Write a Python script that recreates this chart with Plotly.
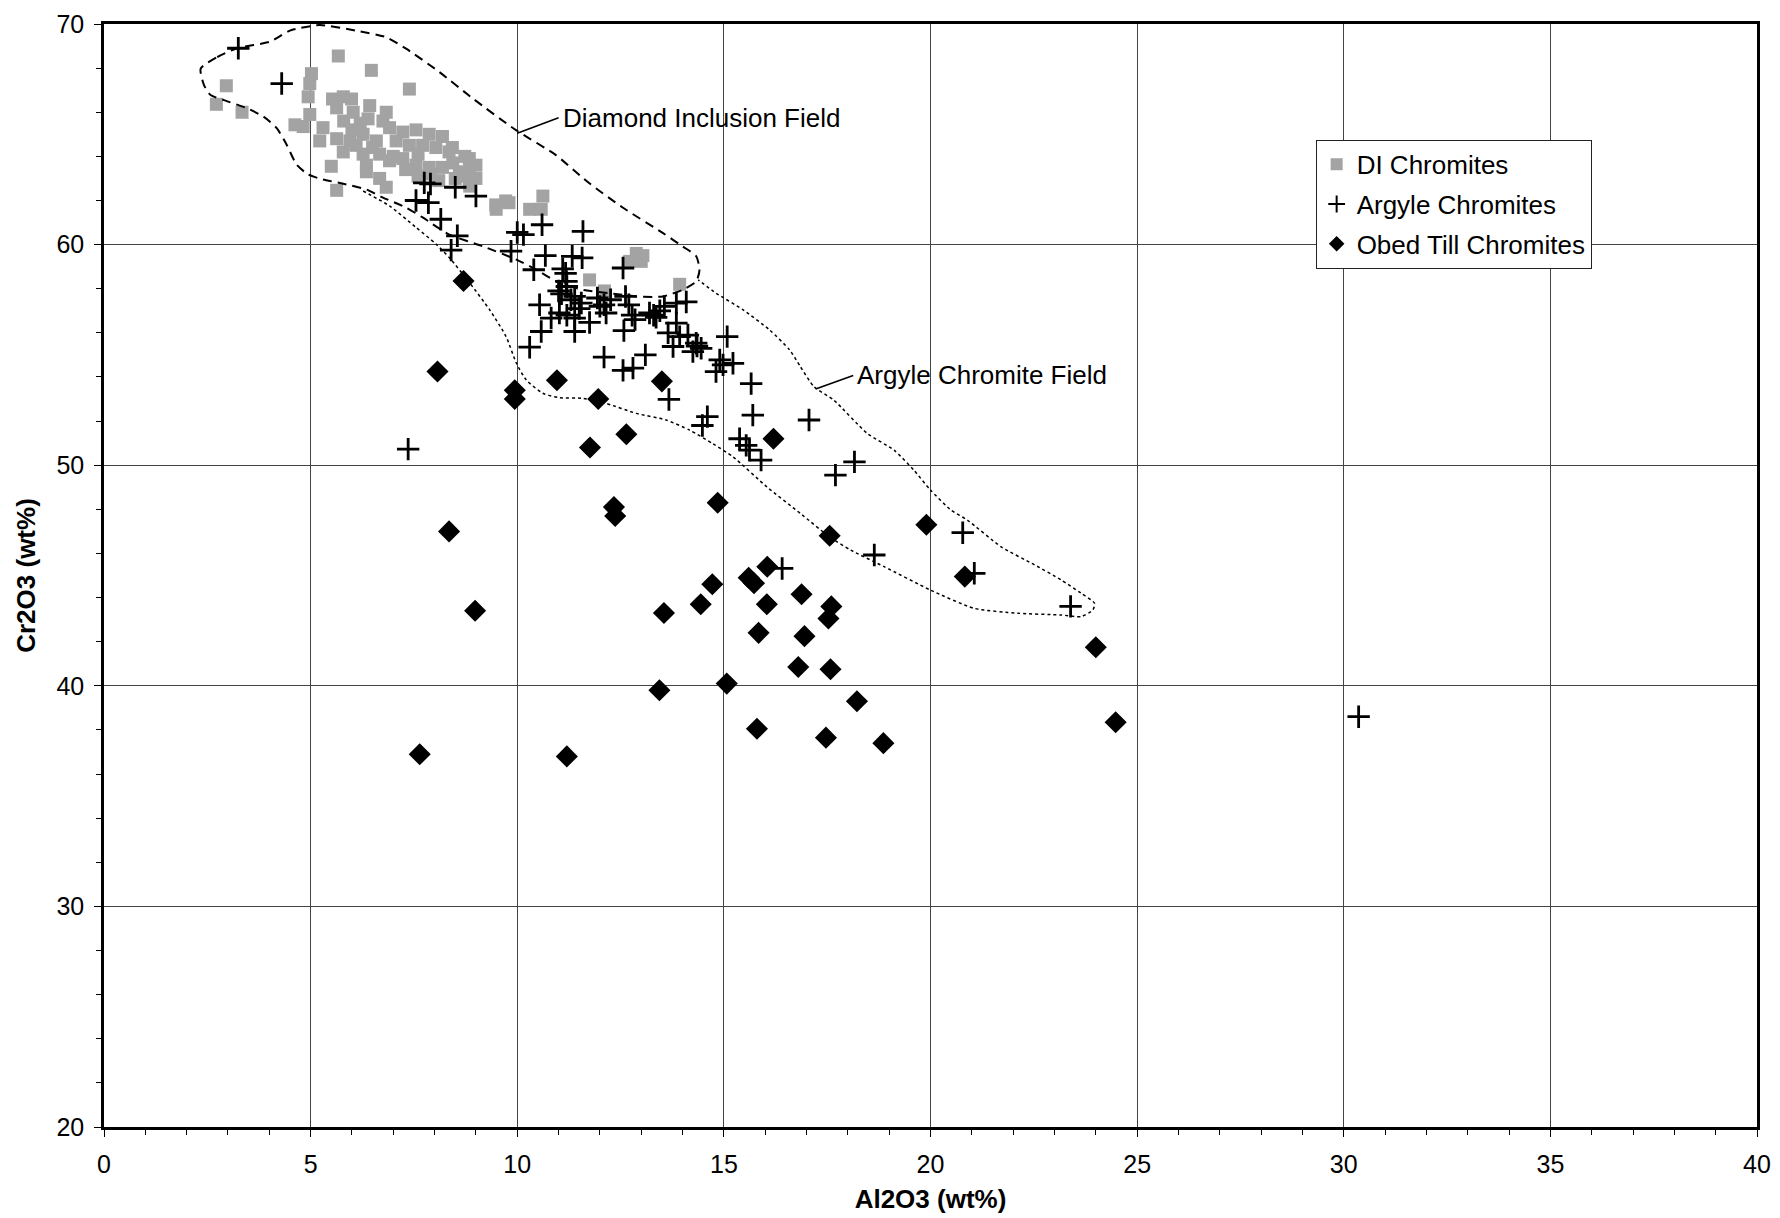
import plotly.graph_objects as go

# ---- DI chromites (Al2O3, Cr2O3 wt%) ----
di_x = [2.96, 2.72, 3.34, 5.67, 6.47, 7.39, 5.02, 4.98, 4.94, 4.82, 4.62, 4.98, 5.53, 5.79, 5.99,
        5.63, 6.03, 6.43, 6.83, 6.39, 6.75, 6.91, 7.23, 7.55, 7.87, 8.19, 5.30, 5.22, 5.63, 5.95,
        6.27, 6.59, 7.07, 7.39, 7.71, 8.03, 8.35, 8.43, 5.79, 6.27, 6.67, 6.91, 7.23, 7.55, 7.87,
        8.19, 8.60, 8.84, 8.80, 8.84, 5.50, 6.35, 6.35, 6.67, 6.83, 5.63, 8.73, 8.85, 8.85, 8.44,
        9.49, 9.80, 10.30, 10.58, 10.62, 12.88, 13.04, 12.72, 13.00, 11.75, 12.11, 13.93, 7.90, 8.10,
        7.60, 7.30, 6.50, 6.10, 6.00, 5.80, 6.20, 7.00, 7.60, 8.50, 9.00, 9.00, 9.48, 9.72]
di_y = [67.20, 66.36, 66.00, 68.55, 67.90, 67.05, 67.75, 67.30, 66.70, 65.35, 65.43, 65.90, 66.60, 66.70, 66.60,
        66.20, 66.00, 66.30, 66.00, 65.70, 65.60, 65.30, 65.10, 65.20, 65.00, 64.90, 65.30, 64.70, 64.80, 64.70,
        65.00, 64.70, 64.70, 64.50, 64.50, 64.40, 64.20, 64.40, 64.20, 64.10, 64.10, 63.80, 63.90, 63.60, 63.50,
        63.50, 63.30, 63.90, 63.10, 62.80, 63.55, 63.60, 63.30, 63.00, 62.60, 62.46, 64.00, 63.40, 62.65, 63.70,
        61.60, 61.90, 61.60, 61.60, 62.20, 59.60, 59.50, 59.24, 59.24, 58.40, 57.90, 58.20, 63.20, 62.90,
        63.10, 63.40, 64.40, 64.50, 65.20, 65.60, 65.50, 64.00, 64.10, 63.00, 63.00, 63.60, 61.80, 61.98]

# ---- Argyle chromites ----
arg_x = [3.25, 4.30, 7.75, 7.90, 8.50, 9.00, 7.55, 7.85, 8.15, 8.55, 8.40, 10.00, 10.15, 9.85, 10.60,
         10.68, 11.59, 11.33, 11.57, 12.56, 10.40, 11.17, 11.19, 11.07, 11.39, 11.55, 10.54, 11.02, 10.82,
         11.39, 11.75, 11.39, 10.58, 10.30, 11.94, 12.10, 12.26, 12.62, 12.70, 12.78, 12.58, 13.20, 13.36,
         13.56, 13.85, 14.09, 13.65, 13.85, 13.93, 13.77, 14.13, 14.33, 14.25, 15.08, 14.90, 14.98, 15.22,
         14.81, 12.10, 12.56, 12.80, 13.10, 15.66, 13.67, 14.60, 14.48, 15.70, 17.06, 15.38, 15.54, 15.62,
         15.90, 18.16, 17.70, 7.36, 20.78, 18.64, 16.41, 21.06, 23.39, 30.36, 11.10, 11.20, 11.00, 11.30,
         11.50, 11.20, 12.00, 12.15, 13.30, 13.45, 12.85, 14.35, 14.45]
arg_y = [68.90, 67.30, 62.80, 62.75, 62.60, 62.20, 62.00, 61.90, 61.15, 60.40, 59.75, 60.55, 60.45, 59.70, 60.90,
         59.50, 60.60, 59.47, 59.40, 58.94, 58.86, 58.70, 58.33, 57.77, 57.65, 57.35, 57.27, 56.90, 56.67,
         56.67, 56.47, 56.06, 56.06, 55.35, 57.58, 57.27, 57.50, 57.65, 57.27, 56.80, 56.10, 56.90, 56.70,
         57.20, 57.35, 57.40, 56.00, 56.44, 55.83, 55.38, 55.90, 55.53, 55.15, 55.83, 54.77, 54.55, 54.62,
         54.24, 54.90, 54.30, 54.40, 55.00, 53.70, 52.98, 52.20, 51.80, 52.27, 52.05, 51.20, 50.90, 50.68,
         50.23, 50.15, 49.55, 50.73, 46.94, 45.93, 45.32, 45.10, 43.60, 38.60, 58.90, 58.10, 57.90, 57.50,
         57.10, 56.80, 57.20, 56.90, 56.80, 57.00, 56.60, 55.40, 55.30]

# ---- Obed till chromites ----
obed_x = [8.70, 8.07, 9.94, 9.94, 10.96, 11.96, 11.76, 12.64, 13.50, 16.20, 8.35, 8.98, 12.34, 12.37,
          14.85, 7.64, 11.20, 13.55, 13.44, 14.44, 14.72, 15.07, 15.60, 15.73, 16.05, 16.04, 15.84, 15.80,
          16.80, 16.88, 16.95, 17.60, 17.53, 17.56, 17.58, 17.47, 18.22, 18.86, 19.90, 20.83, 24.00, 24.48]
obed_y = [58.35, 54.25, 53.40, 53.00, 53.85, 53.00, 50.80, 51.40, 53.80, 51.20, 47.00, 43.40, 48.10, 47.70,
          48.30, 36.90, 36.80, 43.30, 39.80, 43.70, 44.60, 40.10, 44.90, 44.65, 45.40, 43.70, 42.40, 38.05,
          40.85, 44.15, 42.25, 43.60, 43.05, 46.80, 40.75, 37.65, 39.30, 37.40, 47.30, 44.95, 41.75, 38.35]

# ---- Diamond inclusion field outline (dashed) ----
dif_x = [2.34, 2.74, 3.22, 4.02, 4.50, 5.22, 6.10, 6.83, 7.31, 8.11, 8.92, 9.96, 10.92, 11.73, 12.56,
         13.52, 14.00, 14.33, 14.41, 14.33, 14.00, 13.52, 12.88, 12.23, 11.59, 11.02, 10.46, 9.98, 9.17,
         8.36, 7.71, 7.31, 6.75, 6.35, 5.79, 5.30, 4.94, 4.66, 4.42, 4.18, 3.86, 3.46, 2.90, 2.58, 2.42, 2.34]
dif_y = [67.98, 68.50, 68.90, 69.20, 69.70, 69.95, 69.70, 69.40, 68.88, 67.83, 66.63, 65.20, 64.08, 62.80, 61.67,
         60.53, 59.92, 59.47, 58.86, 58.33, 57.95, 57.65, 57.65, 57.80, 57.95, 58.26, 58.86, 59.32, 59.92,
         60.45, 61.23, 61.68, 62.13, 62.50, 62.76, 62.95, 63.18, 63.63, 64.53, 65.28, 65.80, 66.18, 66.55, 66.78, 67.23, 67.98]

# ---- Argyle chromite field outline (dotted) ----
acf_x = [6.27, 6.91, 7.55, 8.03, 8.36, 8.85, 9.33, 9.73, 9.98, 10.22, 10.62, 11.02, 11.59, 12.15, 12.88,
         13.60, 14.17, 14.73, 15.22, 16.05, 16.86, 17.55, 18.07, 18.88, 20.00, 21.06, 22.11, 23.16, 23.65,
         23.93, 23.97, 23.65, 23.16, 22.52, 21.71, 20.90, 20.50, 20.00, 19.60, 19.12, 18.47, 17.66, 17.18,
         16.85, 16.59, 16.10, 15.46, 14.81, 14.38]
acf_y = [62.43, 61.75, 60.78, 60.03, 59.40, 58.26, 57.05, 55.83, 54.62, 53.86, 53.26, 53.06, 53.03, 52.80, 52.35,
         52.05, 51.59, 50.98, 50.38, 49.00, 47.80, 46.76, 46.15, 45.40, 44.34, 43.51, 43.29, 43.21, 43.14,
         43.44, 43.74, 44.19, 44.80, 45.48, 46.30, 47.50, 47.96, 48.87, 49.77, 50.68, 51.44, 52.95, 53.56,
         54.47, 55.23, 56.14, 57.05, 57.80, 58.40]

# ---- field labels with leader lines ----
field_labels = ["Diamond Inclusion Field", "Argyle Chromite Field"]
leader_x = [[10.0, 11.0], [17.22, 18.13]]
leader_y = [[65.05, 65.75], [53.45, 54.07]]

FONT = "Liberation Sans, Arial, sans-serif"

fig = go.Figure()

fig.add_trace(go.Scatter(
    x=di_x, y=di_y, mode="markers", name="DI Chromites", legendgroup="a",
    marker=dict(symbol="square", size=13, color="#a3a3a3", line=dict(width=0))))
fig.add_trace(go.Scatter(
    x=arg_x, y=arg_y, mode="markers", name="Argyle Chromites", legendgroup="b",
    marker=dict(symbol="cross-thin", size=16, color="black", line=dict(width=2.8, color="black"))))
fig.add_trace(go.Scatter(
    x=obed_x, y=obed_y, mode="markers", name="Obed Till Chromites", legendgroup="c",
    marker=dict(symbol="diamond", size=17, color="black", line=dict(width=0))))

fig.add_trace(go.Scatter(
    x=dif_x, y=dif_y, mode="lines", showlegend=False, hoverinfo="skip",
    line=dict(color="black", width=2.0, dash="9px,6px", shape="spline", smoothing=0.6)))
fig.add_trace(go.Scatter(
    x=acf_x, y=acf_y, mode="lines", showlegend=False, hoverinfo="skip",
    line=dict(color="black", width=1.5, dash="dot", shape="spline", smoothing=0.6)))

for lbl, lx, ly in zip(field_labels, leader_x, leader_y):
    fig.add_trace(go.Scatter(x=lx, y=ly, mode="lines", showlegend=False, hoverinfo="skip",
                             line=dict(color="black", width=1.6)))
    fig.add_annotation(x=lx[1], y=ly[1], text=lbl, showarrow=False, xref="x", yref="y",
                       xanchor="left", yanchor="middle", xshift=2,
                       font=dict(family=FONT, size=26, color="black"))

fig.update_layout(
    width=1780, height=1218,
    margin=dict(l=104, r=23, t=24, b=91),
    paper_bgcolor="white", plot_bgcolor="white",
    font=dict(family=FONT, size=25, color="black"),
    showlegend=True,
    legend=dict(x=0.733, y=0.895, xanchor="left", yanchor="top",
                bgcolor="white", bordercolor="#222", borderwidth=1,
                font=dict(family=FONT, size=26), tracegroupgap=3,
                itemsizing="constant", itemwidth=30),
)

fig.update_xaxes(
    range=[0, 40], dtick=5, tick0=0, automargin=False,
    showgrid=True, gridcolor="#444", gridwidth=1, zeroline=False,
    showline=True, linecolor="black", linewidth=2.5, mirror=True,
    ticks="outside", ticklen=7, tickcolor="black", ticklabelstandoff=6,
    minor=dict(dtick=1, ticks="outside", ticklen=5, tickcolor="black", showgrid=False),
    tickfont=dict(family=FONT, size=25),
    title=dict(text="<b>Al2O3 (wt%)</b>", font=dict(family=FONT, size=26), standoff=14),
)
fig.update_yaxes(
    range=[20, 70], dtick=10, tick0=0, automargin=False,
    showgrid=True, gridcolor="#444", gridwidth=1, zeroline=False,
    showline=True, linecolor="black", linewidth=2.5, mirror=True,
    ticks="outside", ticklen=7, tickcolor="black", ticklabelstandoff=5,
    minor=dict(dtick=2, ticks="outside", ticklen=5, tickcolor="black", showgrid=False),
    tickfont=dict(family=FONT, size=25),
    title=dict(text="<b>Cr2O3 (wt%)</b>", font=dict(family=FONT, size=26), standoff=14),
)

fig.write_html("out.html")
